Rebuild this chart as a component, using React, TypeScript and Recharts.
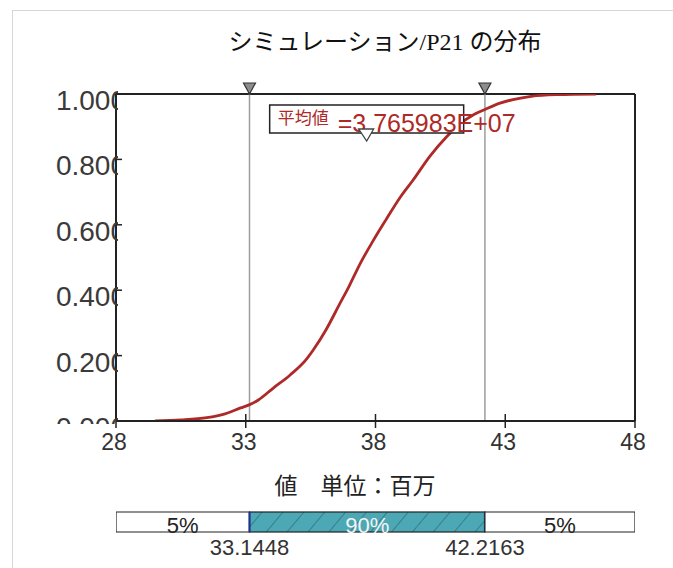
import React from "react";
import {
  ComposedChart,
  Line,
  XAxis,
  YAxis,
  ReferenceLine,
  ReferenceDot,
  BarChart,
  Bar,
  LabelList,
} from "recharts";

// simulated values (millions) and their cumulative probability
const values = [
  29.5, 30.5, 31.5, 32.2, 32.8, 33.15, 33.5, 34.05, 34.7, 35.35, 35.6, 36.1,
  36.6, 37.0, 37.4, 37.9, 38.4, 38.96, 39.45, 40.1, 40.75, 41.2, 41.76, 42.2,
  42.8, 43.3, 44.0, 45.0, 46.5,
];
const cumulative = [
  0, 0.003, 0.01, 0.022, 0.04, 0.05, 0.065, 0.1, 0.14, 0.19, 0.217, 0.28,
  0.355, 0.415, 0.48, 0.55, 0.615, 0.685, 0.737, 0.81, 0.87, 0.905, 0.936,
  0.952, 0.972, 0.983, 0.993, 0.998, 1.0,
];

const xTicks = [28, 33, 38, 43, 48];
const yTicks = [0, 0.2, 0.4, 0.6, 0.8, 1.0];

const p05 = 33.1448;
const p95 = 42.2163;
const mean = 37.65983;
const meanText = "3.765983E+07";

const segmentLabels = ["5%", "90%", "5%"];
const boundaryLabels = ["33.1448", "42.2163"];

const title = "シミュレーション/P21 の分布";
const xTitle = "値　単位：百万";

const xMin = 28;
const xMax = 48;

const cdf = values.map((v, i) => ({ v, p: cumulative[i] }));
const band = [
  { name: "r", base: xMin, low: p05 - xMin, mid: p95 - p05, high: xMax - p95 },
];

const SANS = '"Liberation Sans", Arial, sans-serif';
const JP = '"Noto Sans CJK JP", sans-serif';
const RED = "#ad2a28";

const XTick = (props: any) => {
  const { x, y, payload } = props;
  return (
    <g>
      <line x1={x} x2={x} y1={y - 7} y2={y + 7} stroke="#222" strokeWidth={1.5} />
      <text x={x - 2} y={y + 29} textAnchor="middle" fontSize={23} fill="#333" fontFamily={SANS}>
        {payload.value}
      </text>
    </g>
  );
};

const YTick = (props: any) => {
  const { x, y, payload, index } = props;
  const id = `yclip${index}`;
  return (
    <g>
      <defs>
        <clipPath id={id}>
          <rect x={0} y={0} width={x + 2} height={424} />
        </clipPath>
      </defs>
      <line x1={x} x2={x + 6} y1={y} y2={y} stroke="#222" strokeWidth={1.5} />
      <text
        x={x + 10}
        y={y + 16}
        textAnchor="end"
        fontSize={28}
        fill="#3a3a3a"
        fontFamily={SANS}
        clipPath={`url(#${id})`}
      >
        {Number(payload.value).toFixed(3)}
      </text>
    </g>
  );
};

const QuantMarker = (props: any) => {
  const { cx, cy } = props;
  return (
    <path
      d={`M${cx - 6},${cy - 11} L${cx + 6},${cy - 11} L${cx},${cy} Z`}
      fill="#8c8c8c"
      stroke="#333"
      strokeWidth={1.2}
    />
  );
};

const MeanLabel = (props: any) => {
  const { cx, cy } = props;
  const bx = cx - 97;
  const by = cy + 11;
  return (
    <g>
      <rect x={bx} y={by} width={194} height={28} fill="#fff" stroke="#222" strokeWidth={1.5} />
      <text x={cx - 29} y={cy + 38} fontSize={25} fill={RED} fontFamily={SANS}>
        ={meanText}
      </text>
      <rect x={bx + 2} y={by + 1} width={66} height={22} fill="#fff" />
      <text x={bx + 8} y={by + 19} fontSize={17} fill={RED} fontFamily={JP}>
        平均値
      </text>
      <path
        d={`M${cx - 8},${cy + 35} L${cx + 7},${cy + 35} L${cx},${cy + 47} Z`}
        fill="#fff"
        stroke="#444"
        strokeWidth={1.3}
      />
    </g>
  );
};

const BandTick = (props: any) => {
  const { x, y, index } = props;
  return (
    <text x={x} y={y + 23} textAnchor="middle" fontSize={22} fill="#333" fontFamily={SANS}>
      {boundaryLabels[index]}
    </text>
  );
};

const segLabel = (i: number, color: string) => (props: any) => {
  const { x, y, width, height } = props;
  return (
    <text
      x={x + width / 2}
      y={y + height + 1}
      textAnchor="middle"
      fontSize={22}
      fill={color}
      fontFamily={SANS}
    >
      {segmentLabels[i]}
    </text>
  );
};

const MidShape = (props: any) => {
  const { x, y, width, height } = props;
  return (
    <g>
      <rect x={x} y={y} width={width} height={height} fill="url(#hatch)" stroke="#222" strokeWidth={1.2} />
      <line x1={x} x2={x} y1={y} y2={y + height} stroke="#1d2f95" strokeWidth={2} />
      <line x1={x + width} x2={x + width} y1={y} y2={y + height} stroke="#1d2f95" strokeWidth={2} />
    </g>
  );
};

export default function App() {
  return (
    <div
      style={{
        position: "absolute",
        left: 0,
        top: 0,
        width: 673,
        height: 568,
        overflow: "hidden",
        background: "#fff",
      }}
    >
      <div
        style={{
          position: "absolute",
          left: 12,
          top: 10,
          width: 700,
          height: 600,
          border: "1px solid #d6d6d6",
        }}
      />
      <div
        style={{
          position: "absolute",
          left: 100,
          top: 27,
          width: 570,
          textAlign: "center",
          fontSize: 24,
          lineHeight: "30px",
          fontFamily: '"Liberation Serif", "Noto Sans CJK JP", serif',
          color: "#111",
        }}
      >
        {title}
      </div>

      <div style={{ position: "absolute", left: 0, top: 0 }}>
        <ComposedChart
          width={673}
          height={568}
          data={cdf}
          margin={{ top: 94, right: 38, bottom: 117, left: 76 }}
        >
          <XAxis
            dataKey="v"
            type="number"
            domain={[xMin, xMax]}
            ticks={xTicks}
            interval={0}
            allowDataOverflow
            height={30}
            tickLine={false}
            tickSize={0}
            tickMargin={0}
            axisLine={{ stroke: "#222", strokeWidth: 2 }}
            tick={<XTick />}
          />
          <YAxis
            type="number"
            domain={[0, 1]}
            ticks={yTicks}
            interval={0}
            allowDataOverflow
            width={40}
            tickLine={false}
            tickSize={0}
            tickMargin={0}
            axisLine={{ stroke: "#222", strokeWidth: 2 }}
            tick={<YTick />}
          />
          <ReferenceLine y={1} stroke="#222" strokeWidth={2} />
          <ReferenceLine x={xMax} stroke="#222" strokeWidth={2} />
          <ReferenceLine x={p05} stroke="#9c9c9c" strokeWidth={1.5} />
          <ReferenceLine x={p95} stroke="#9c9c9c" strokeWidth={1.5} />
          <Line
            dataKey="p"
            type="monotone"
            stroke={RED}
            strokeWidth={2.8}
            dot={false}
            isAnimationActive={false}
          />
          <ReferenceDot x={p05} y={1} r={6} shape={QuantMarker} ifOverflow="visible" />
          <ReferenceDot x={p95} y={1} r={6} shape={QuantMarker} ifOverflow="visible" />
          <ReferenceDot x={mean} y={1} r={6} shape={MeanLabel} ifOverflow="visible" />
        </ComposedChart>
      </div>

      <div
        style={{
          position: "absolute",
          left: 155,
          top: 470,
          width: 400,
          textAlign: "center",
          fontSize: 23,
          lineHeight: "28px",
          fontFamily: JP,
          color: "#222",
        }}
      >
        {xTitle}
      </div>

      <div style={{ position: "absolute", left: 0, top: 500 }}>
        <BarChart
          layout="vertical"
          width={673}
          height={64}
          data={band}
          barCategoryGap={0}
          margin={{ top: 12, right: 38, bottom: 2, left: 116 }}
        >
          <defs>
            <pattern
              id="hatch"
              width={16}
              height={16}
              patternUnits="userSpaceOnUse"
              patternTransform="rotate(40)"
            >
              <rect x={0} y={0} width={16} height={16} fill="#4ba8b4" />
              <line x1={0} x2={0} y1={0} y2={16} stroke="#2b6d78" strokeWidth={1.4} />
            </pattern>
          </defs>
          <XAxis
            type="number"
            domain={[xMin, xMax]}
            allowDataOverflow
            ticks={[p05, p95]}
            interval={0}
            height={30}
            axisLine={false}
            tickLine={false}
            tickSize={0}
            tickMargin={0}
            tick={<BandTick />}
          />
          <YAxis type="category" dataKey="name" hide />
          <Bar dataKey="base" stackId="s" fill="none" isAnimationActive={false} />
          <Bar dataKey="low" stackId="s" fill="#fff" stroke="#222" strokeWidth={1.2} isAnimationActive={false}>
            <LabelList content={segLabel(0, "#222")} />
          </Bar>
          <Bar dataKey="mid" stackId="s" shape={MidShape} isAnimationActive={false}>
            <LabelList content={segLabel(1, "#f4f4f4")} />
          </Bar>
          <Bar dataKey="high" stackId="s" fill="#fff" stroke="#222" strokeWidth={1.2} isAnimationActive={false}>
            <LabelList content={segLabel(2, "#222")} />
          </Bar>
        </BarChart>
      </div>
    </div>
  );
}
